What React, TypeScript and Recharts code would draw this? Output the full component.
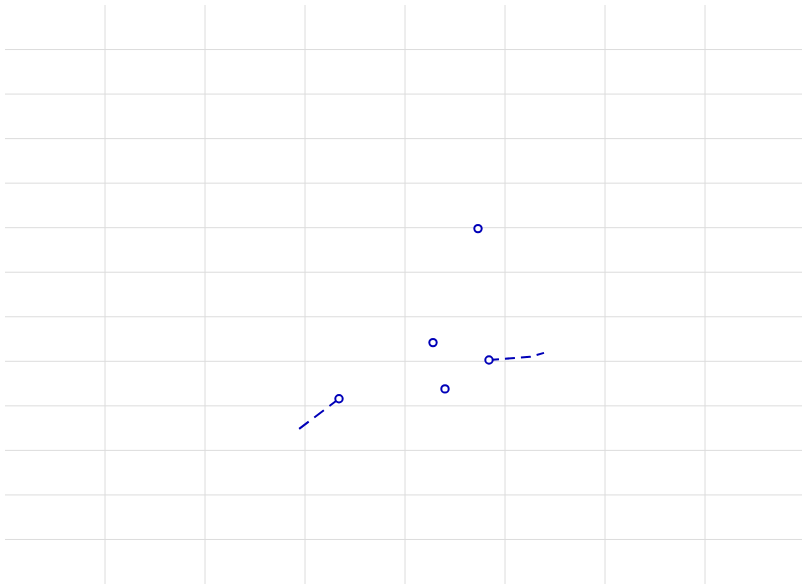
import React from 'react';
import { ScatterChart, Scatter, XAxis, YAxis, CartesianGrid } from 'recharts';

const xTicks = [1, 2, 3, 4, 5, 6, 7];
const yTicks = [1, 2, 3, 4, 5, 6, 7, 8, 9, 10, 11, 12];

const points = [
  { x: 4.73, y: 7.98 },
  { x: 4.28, y: 5.42 },
  { x: 4.84, y: 5.03 },
  { x: 4.4, y: 4.38 },
  { x: 3.34, y: 4.16 },
];

const trackA = [
  { x: 3.34, y: 4.16 },
  { x: 2.94, y: 3.48 },
];

const trackB = [
  { x: 4.84, y: 5.03 },
  { x: 5.25, y: 5.1 },
  { x: 5.39, y: 5.19 },
];

const BLUE = '#0000b8';

const NoDot = () => <g />;
const NoTick = () => <g />;

const Ring = (props: any) => {
  const { cx, cy } = props;
  return <circle cx={cx} cy={cy} r={3.7} fill="#fff" stroke={BLUE} strokeWidth={2} />;
};

export default function App() {
  return (
    <div style={{ position: 'absolute', left: 0, top: 0, width: 802, height: 585, overflow: 'hidden', background: '#fff' }}>
      <ScatterChart width={810} height={590} margin={{ top: 5, right: 5, bottom: 6, left: 5 }}>
        <CartesianGrid stroke="#dcdcdc" strokeWidth={1} syncWithTicks />
        <XAxis
          type="number"
          dataKey="x"
          domain={[0, 8]}
          ticks={xTicks}
          height={0}
          axisLine={false}
          tickLine={false}
          tick={NoTick}
        />
        <YAxis
          type="number"
          dataKey="y"
          domain={[0, 13]}
          ticks={yTicks}
          width={0}
          axisLine={false}
          tickLine={false}
          tick={NoTick}
        />
        <Scatter
          data={trackA}
          line={{ stroke: BLUE, strokeWidth: 2, strokeDasharray: '12 7' }}
          shape={NoDot}
          isAnimationActive={false}
        />
        <Scatter
          data={trackB}
          line={{ stroke: BLUE, strokeWidth: 2, strokeDasharray: '10 6' }}
          shape={NoDot}
          isAnimationActive={false}
        />
        <Scatter data={points} shape={Ring} isAnimationActive={false} />
      </ScatterChart>
    </div>
  );
}
